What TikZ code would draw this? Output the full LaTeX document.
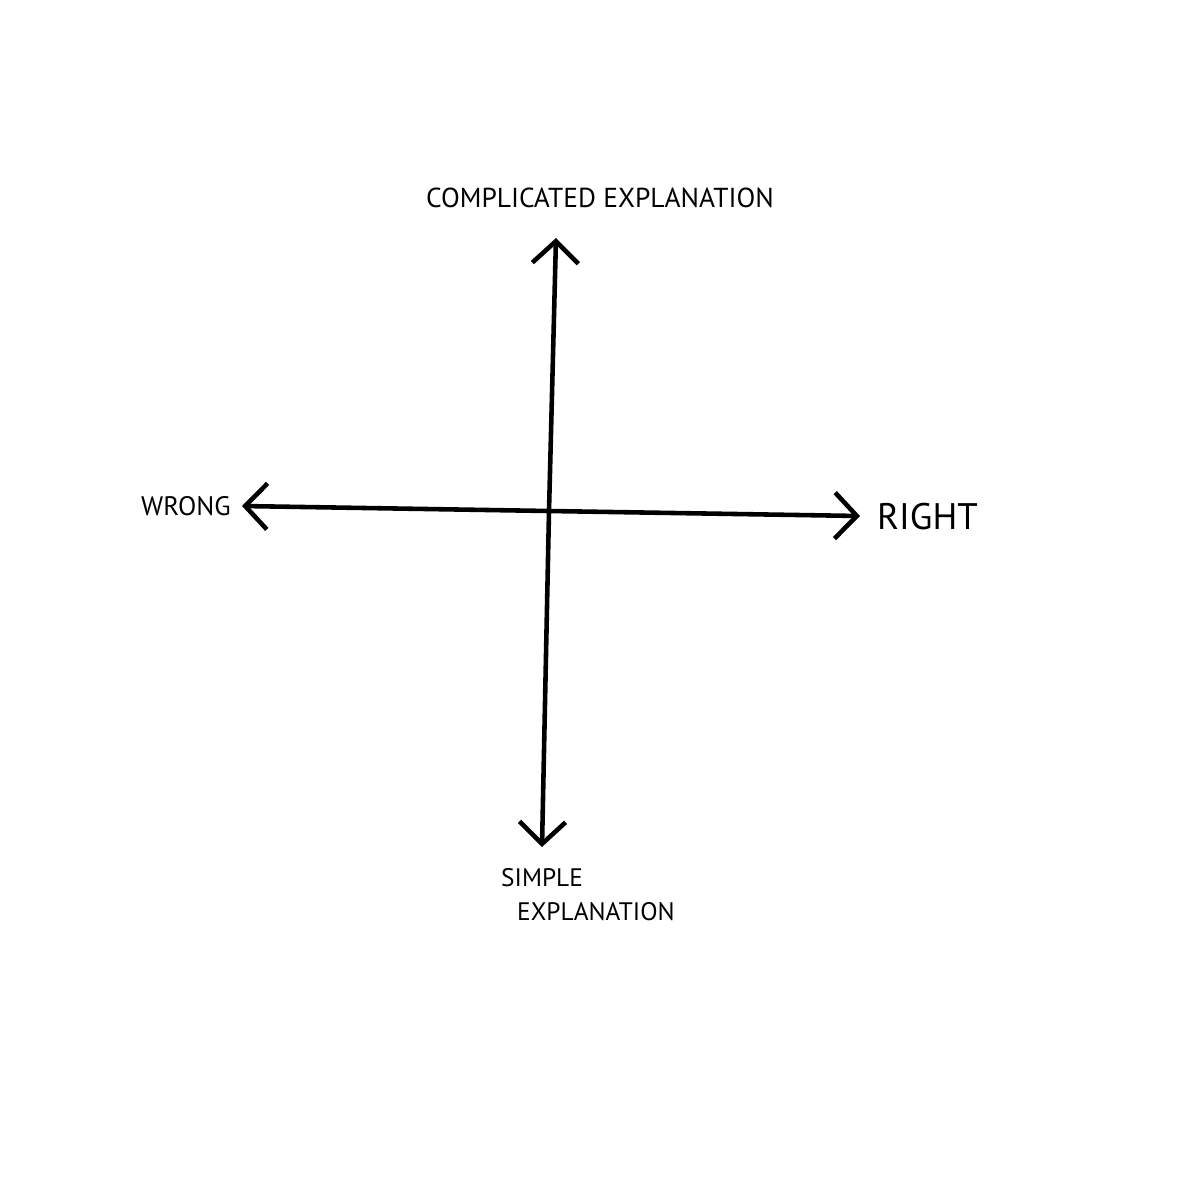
\documentclass[tikz,border=0pt]{standalone}
\usepackage{fontspec}
\setmainfont{PT Sans}
\usetikzlibrary{arrows.meta}
\begin{document}
\begin{tikzpicture}[x=0.01cm,y=-0.01cm,
  axis/.style={line width=1.3pt,-{Straight Barb[length=2.2mm,width=4.6mm,line width=1.3pt]}},
  lbl/.style={font=\fontsize{7.8}{9}\selectfont, inner sep=1pt}]
\useasboundingbox (0,0) rectangle (1200,1200);
\coordinate (c) at (549,511);
\coordinate (t) at (556,238);
\coordinate (b) at (542,847);
\coordinate (l) at (242,506);
\coordinate (r) at (860,516);
\draw[axis] (c) -- (t);
\draw[axis] (c) -- (b);
\draw[axis] (c) -- (l);
\draw[axis] (c) -- (r);
\node[lbl] (top) at (600,198) {COMPLICATED EXPLANATION};
\node[lbl,font=\fontsize{7.6}{9}\selectfont,anchor=west] (wrong) at (137,506) {WRONG};
\node[lbl,font=\fontsize{10.5}{12}\selectfont,anchor=west] (right) at (873,517) {RIGHT};
\node[lbl,font=\fontsize{7.2}{9}\selectfont,anchor=west] (s1) at (497,878) {SIMPLE};
\node[lbl,font=\fontsize{7.2}{9}\selectfont,anchor=west] (s2) at (513,912) {EXPLANATION};
\end{tikzpicture}
\end{document}
